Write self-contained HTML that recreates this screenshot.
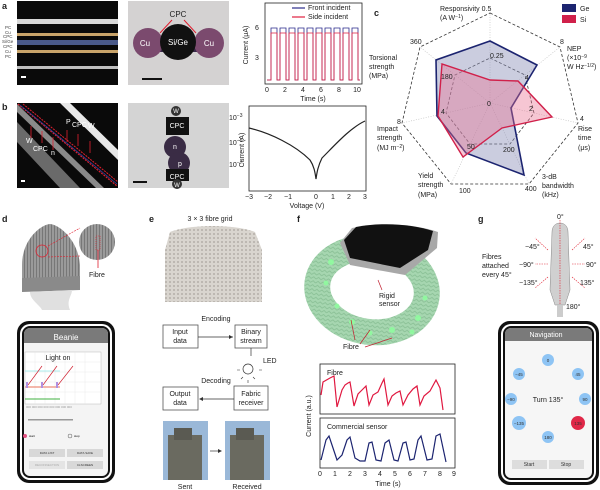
<!DOCTYPE html>
<html><head><meta charset="utf-8"><style>
html,body{margin:0;padding:0;background:#fff;}
svg{display:block;font-family:"Liberation Sans",sans-serif;}
</style></head><body>
<svg width="600" height="490" viewBox="0 0 600 490" xmlns="http://www.w3.org/2000/svg">
<defs>
<pattern id="knit" width="4" height="4" patternUnits="userSpaceOnUse"><rect width="4" height="4" fill="#d9d5cf"/><circle cx="2" cy="2" r="0.9" fill="#a9a49e"/></pattern>
<pattern id="knit2" width="3" height="4" patternUnits="userSpaceOnUse"><rect width="3" height="4" fill="#9a9a9a"/><rect width="1" height="4" fill="#777"/></pattern>
<pattern id="greenk" width="5" height="4" patternUnits="userSpaceOnUse"><rect width="5" height="4" fill="#a6d6b0"/><path d="M0 3 L2.5 1 L5 3" stroke="#86bd92" fill="none" stroke-width="0.8"/></pattern>
</defs>
<g font-size="8" fill="#222">
<text x="2" y="9" font-weight="bold" font-size="9">a</text>
<text x="2" y="110" font-weight="bold" font-size="9">b</text>
<text x="374" y="16" font-weight="bold" font-size="9">c</text>
<text x="2" y="222" font-weight="bold" font-size="9">d</text>
<text x="149" y="222" font-weight="bold" font-size="9">e</text>
<text x="297" y="222" font-weight="bold" font-size="9">f</text>
<text x="478" y="222" font-weight="bold" font-size="9">g</text>
</g>

<!-- a image1 -->
<rect x="17" y="1" width="101" height="84" fill="#0a0a0a"/>
<rect x="17" y="19" width="101" height="5" fill="#d8d8d8"/>
<rect x="17" y="33" width="101" height="3" fill="#c9a46a"/>
<rect x="17" y="40" width="101" height="5" fill="#4a5a8a"/>
<rect x="17" y="50" width="101" height="3" fill="#c9a46a"/>
<rect x="17" y="66" width="101" height="3" fill="#bfbfbf"/>
<rect x="21" y="76" width="5" height="2" fill="#fff"/>
<g font-size="4.5" fill="#444"><text x="5" y="29">PC</text><text x="5" y="34">Cu</text><text x="3" y="38">CPC</text><text x="2" y="43">Si/Ge</text><text x="3" y="48">CPC</text><text x="5" y="53">Cu</text><text x="5" y="58">PC</text></g>
<!-- a image2 -->
<rect x="128" y="1" width="101" height="84" fill="#d4d2d2"/>
<rect x="140" y="38" width="78" height="14" fill="#3a2a4a"/>
<circle cx="148" cy="43" r="15" fill="#7b4a6e"/>
<circle cx="209" cy="43" r="15" fill="#7b4a6e"/>
<circle cx="178" cy="42" r="18" fill="#111"/>
<g fill="#fff" font-size="8" text-anchor="middle"><text x="145" y="46">Cu</text><text x="178" y="45">Si/Ge</text><text x="209" y="46">Cu</text></g>
<text x="178" y="17" font-size="8" text-anchor="middle" fill="#222">CPC</text>
<path d="M172 20 L160 33 M184 20 L196 33" stroke="#e02030" stroke-width="1"/>
<rect x="142" y="78" width="20" height="2" fill="#111"/>
<!-- a chart -->
<rect x="265" y="3" width="97" height="81" fill="none" stroke="#222" stroke-width="0.8"/>
<path d="M267 80 L271 80 L271 28 L277 28 L277 80 L280 80 L280 28 L286 28 L286 80 L289 80 L289 28 L295 28 L295 80 L298 80 L298 28 L304 28 L304 80 L307 80 L307 28 L313 28 L313 80 L316 80 L316 28 L322 28 L322 80 L325 80 L325 28 L331 28 L331 80 L334 80 L334 28 L340 28 L340 80 L343 80 L343 28 L349 28 L349 80 L352 80 L352 28 L358 28 L358 80 L360 80" fill="none" stroke="#2a2a8a" stroke-width="0.8"/>
<path d="M267 80 L271 80 L271 33 L277 33 L277 80 L280 80 L280 33 L286 33 L286 80 L289 80 L289 33 L295 33 L295 80 L298 80 L298 33 L304 33 L304 80 L307 80 L307 33 L313 33 L313 80 L316 80 L316 33 L322 33 L322 80 L325 80 L325 33 L331 33 L331 80 L334 80 L334 33 L340 33 L340 80 L343 80 L343 33 L349 33 L349 80 L352 80 L352 33 L358 33 L358 80 L360 80" fill="none" stroke="#e02040" stroke-width="0.8"/>
<path d="M292 8 H305" stroke="#2a2a8a" stroke-width="1.2"/><path d="M292 17 H305" stroke="#e02040" stroke-width="1.2"/>
<g font-size="7" fill="#222"><text x="308" y="10">Front incident</text><text x="308" y="19">Side incident</text>
<text x="255" y="30">6</text><text x="255" y="60">3</text>
<g text-anchor="middle"><text x="267" y="92">0</text><text x="285" y="92">2</text><text x="303" y="92">4</text><text x="321" y="92">6</text><text x="339" y="92">8</text><text x="357" y="92">10</text><text x="313" y="101">Time (s)</text></g>
<text transform="translate(248,45) rotate(-90)" text-anchor="middle">Current (μA)</text>
<text transform="translate(244,150) rotate(-90)" text-anchor="middle">Current (A)</text>
</g>

<!-- b image1 -->
<rect x="17" y="103" width="101" height="85" fill="#0a0a0a"/>
<path d="M17 122 L80 188 L60 188 L17 142Z" fill="#6a6a6a"/>
<path d="M17 104 L104 188 L96 188 L17 112Z" fill="#8a8a8a"/>
<path d="M60 103 L118 160 L118 150 L70 103Z" fill="#e8e8e8"/>
<path d="M18 104 L117 186" stroke="#e02030" stroke-width="1.2" stroke-dasharray="2,1"/>
<path d="M23 104 L118 182" stroke="#e02030" stroke-width="1" stroke-dasharray="2,1"/>
<path d="M20 105 L117 184" stroke="#3040a0" stroke-width="0.8"/>
<g fill="#fff" font-size="7"><text x="26" y="143">W</text><text x="33" y="151">CPC</text><text x="51" y="155">n</text><text x="66" y="124">P</text><text x="72" y="127">CPC</text><text x="88" y="128">W</text></g>
<path d="M31 126 V138 M42 131 V143 M53 137 V150 M67 142 V130 M78 146 V134 M90 153 V141" stroke="#e02030" stroke-width="0.8"/>
<rect x="21" y="180" width="4" height="2" fill="#fff"/>
<!-- b image2 -->
<rect x="128" y="103" width="101" height="85" fill="#d4d4d4"/>
<rect x="166" y="117" width="23" height="18" fill="#111"/>
<circle cx="175" cy="147" r="11" fill="#3a2c45"/>
<circle cx="179" cy="163" r="11" fill="#3a2c45"/>
<rect x="166" y="169" width="23" height="12" fill="#111"/>
<circle cx="176" cy="111" r="5" fill="#333"/><circle cx="177" cy="184" r="5" fill="#333"/>
<g fill="#fff" font-size="7" text-anchor="middle"><text x="177" y="128">CPC</text><text x="175" y="149">n</text><text x="180" y="166">p</text><text x="177" y="179">CPC</text><text x="176" y="113" font-size="6">W</text><text x="177" y="187" font-size="6">W</text></g>
<rect x="133" y="181" width="14" height="2" fill="#111"/>
<!-- b chart -->
<rect x="249" y="106" width="117" height="85" fill="none" stroke="#222" stroke-width="0.8"/>
<path d="M249 128 C270 133 295 145 310 160 C314 166 315 172 316 179 C317 172 318 166 322 158 C335 145 350 128 365 121" fill="none" stroke="#222" stroke-width="1.2"/>
<g font-size="7" fill="#222"><text x="229" y="120">10<tspan dy="-3" font-size="5">−3</tspan></text><text x="229" y="145">10<tspan dy="-3" font-size="5">−5</tspan></text><text x="229" y="167">10<tspan dy="-3" font-size="5">−7</tspan></text>
<g text-anchor="middle"><text x="249" y="199">−3</text><text x="268" y="199">−2</text><text x="288" y="199">−1</text><text x="316" y="199">0</text><text x="333" y="199">1</text><text x="349" y="199">2</text><text x="365" y="199">3</text><text x="307" y="208">Voltage (V)</text></g></g>

<!-- c radar -->
<g fill="none" stroke="#333" stroke-dasharray="3,2" stroke-width="0.8">
<polygon points="490,13 560,47 578,123 529,184 451,184 402,123 420,47"/>
<polygon points="490,58 525,75 534,113 510,144 470,144 446,113 455,75"/>
</g>
<g stroke="#bbb" stroke-dasharray="1,1.5" stroke-width="0.6"><path d="M490 103 L490 13 M490 103 L560 47 M490 103 L578 123 M490 103 L529 184 M490 103 L451 184 M490 103 L402 123 M490 103 L420 47"/></g>
<polygon points="490,41 537,65 511,108 524,175 466,153 437,116 436,60" fill="#8c90b8" fill-opacity="0.45" stroke="#1c2470" stroke-width="1.6"/>
<polygon points="490,80 518,81 552,117 502,128 463,157 438,116 442,64" fill="#e87090" fill-opacity="0.4" stroke="#d0204a" stroke-width="1.4"/>
<g font-size="7" fill="#222">
<text x="440" y="11">Responsivity  0.5</text><text x="440" y="20">(A W<tspan dy="-2" font-size="5">−1</tspan><tspan dy="2">)</tspan></text>
<text x="490" y="58">0.25</text><text x="487" y="106">0</text>
<text x="560" y="44">8</text><text x="567" y="51">NEP</text><text x="567" y="60">(×10<tspan dy="-2" font-size="5">−9</tspan><tspan dy="2"></tspan></text><text x="567" y="69">W Hz<tspan dy="-2" font-size="5">−1/2</tspan><tspan dy="2">)</tspan></text>
<text x="525" y="80">4</text><text x="529" y="111">2</text>
<text x="580" y="121">4</text><text x="578" y="131">Rise</text><text x="578" y="140">time</text><text x="578" y="150">(μs)</text>
<text x="503" y="152">200</text><text x="525" y="191">400</text><text x="542" y="179">3-dB</text><text x="542" y="188">bandwidth</text><text x="542" y="197">(kHz)</text>
<text x="459" y="193">100</text><text x="467" y="149">50</text><text x="418" y="178">Yield</text><text x="418" y="187">strength</text><text x="418" y="197">(MPa)</text>
<text x="397" y="124">8</text><text x="441" y="114">4</text><text x="377" y="131">Impact</text><text x="377" y="140">strength</text><text x="377" y="150">(MJ m<tspan dy="-2" font-size="5">−2</tspan><tspan dy="2">)</tspan></text>
<text x="410" y="44">360</text><text x="441" y="79">180</text><text x="369" y="60">Torsional</text><text x="369" y="69">strength</text><text x="369" y="78">(MPa)</text>
<rect x="562" y="4" width="14" height="8" fill="#1c2470"/><text x="580" y="11">Ge</text>
<rect x="562" y="15" width="14" height="8" fill="#d0204a"/><text x="580" y="22">Si</text>
</g>

<!-- d hat -->
<path d="M22 265 C22 240 40 225 50 224 C60 225 78 240 80 265 L80 278 L22 280Z" fill="url(#knit2)"/>
<path d="M22 278 L80 276 L80 290 L22 292Z" fill="#8a8a8a"/>
<path d="M30 292 C30 300 40 305 42 310 L70 310 C66 300 72 296 72 290Z" fill="#e0e0e0"/>
<circle cx="42" cy="251" r="6" fill="none" stroke="#e02030" stroke-width="0.8"/>
<circle cx="97" cy="242" r="18" fill="url(#knit2)"/>
<path d="M48 246 L80 228 M48 257 L80 256" stroke="#e02030" stroke-width="0.6" stroke-dasharray="2,1"/>
<path d="M98 250 V268" stroke="#e02030" stroke-width="0.8"/><rect x="96" y="236" width="4" height="14" fill="none" stroke="#e02030" stroke-width="0.6" stroke-dasharray="1,1"/>
<text x="89" y="277" font-size="7" fill="#222">Fibre</text>
<!-- d phone -->
<rect x="17" y="321" width="98" height="162" rx="12" fill="#111"/>
<rect x="20" y="324" width="92" height="156" rx="10" fill="#fff"/>
<rect x="22" y="326" width="88" height="152" rx="8" fill="#111"/>
<rect x="24" y="328" width="84" height="148" rx="6" fill="#f4f4f4"/>
<path d="M24 334 a6 6 0 0 1 6 -6 H102 a6 6 0 0 1 6 6 V343 H24Z" fill="#7a7a7a"/>
<text x="66" y="340" font-size="8" fill="#fff" text-anchor="middle">Beanie</text>
<rect x="25" y="352" width="76" height="52" fill="#fff" stroke="#aaa" stroke-width="0.4"/>
<g stroke="#e4e4e4" stroke-width="0.4"><path d="M35 352 V404 M45 352 V404 M55 352 V404 M65 352 V404 M75 352 V404 M85 352 V404 M25 362 H101 M25 372 H101 M25 382 H101 M25 392 H101"/></g>
<text x="58" y="360" font-size="7" fill="#222" text-anchor="middle">Light on</text>
<path d="M25 371 H60" stroke="#5ce0e0" stroke-width="0.6"/><path d="M25 387 H60" stroke="#f0a090" stroke-width="1.4"/>
<path d="M25 399 H60" stroke="#40b040" stroke-width="1"/>
<path d="M28 385 L42 366 M43 385 L57 366 M58 385 L73 366" stroke="#d02030" stroke-width="0.7"/>
<g fill="#b090e0"><rect x="26" y="382" width="2" height="6"/><rect x="41" y="382" width="2" height="6"/><rect x="56" y="382" width="2" height="6"/></g>
<g fill="#999" font-size="3"><text x="26" y="408">000 000 000 000 000 000 000 000</text></g>
<g fill="#999"><rect x="28" y="419" width="45" height="1.5"/></g>
<circle cx="25" cy="436" r="2" fill="#e05080"/><text x="29" y="437" font-size="3">start</text>
<circle cx="70" cy="436" r="2" fill="none" stroke="#555" stroke-width="0.5"/><text x="74" y="437" font-size="3">stop</text>
<g fill="#d8d8d8"><rect x="29" y="449" width="36" height="8"/><rect x="67" y="449" width="36" height="8"/><rect x="29" y="461" width="36" height="8" fill="#e4e4e4"/><rect x="67" y="461" width="36" height="8"/></g>
<g font-size="3" fill="#333" text-anchor="middle"><text x="47" y="454">DATA LIST</text><text x="85" y="454">DATA SAVE</text><text x="47" y="466" fill="#aaa">RECONNECTION</text><text x="85" y="466">CLSCREEN</text></g>

<!-- e -->
<text x="210" y="221" font-size="7" fill="#222" text-anchor="middle">3 × 3 fibre grid</text>
<path d="M170 232 C190 224 235 224 255 232 L262 250 L262 302 L165 302 L165 250Z" fill="url(#knit)"/>
<g font-size="7" fill="#222" text-anchor="middle">
<text x="216" y="321">Encoding</text><text x="216" y="383">Decoding</text>
<rect x="163" y="325" width="35" height="23" fill="#fff" stroke="#555" stroke-width="0.8"/><text x="180" y="334">Input</text><text x="180" y="343">data</text>
<rect x="235" y="325" width="32" height="23" fill="#fff" stroke="#555" stroke-width="0.8"/><text x="251" y="334">Binary</text><text x="251" y="343">stream</text>
<rect x="163" y="387" width="35" height="23" fill="#fff" stroke="#555" stroke-width="0.8"/><text x="180" y="396">Output</text><text x="180" y="405">data</text>
<rect x="234" y="386" width="34" height="24" fill="#fff" stroke="#555" stroke-width="0.8"/><text x="251" y="396">Fabric</text><text x="251" y="405">receiver</text>
<text x="263" y="363" text-anchor="start">LED</text>
<text x="185" y="489">Sent</text><text x="247" y="489">Received</text>
</g>
<path d="M198 337 H233" stroke="#333" stroke-width="0.7"/><path d="M233 337 l-4 -2 v4z" fill="#333"/>
<path d="M234 399 H200" stroke="#333" stroke-width="0.7"/><path d="M199 399 l4 -2 v4z" fill="#333"/>
<path d="M251 348 V356" stroke="#333" stroke-width="0.7"/>
<circle cx="248" cy="369" r="5" fill="#fff" stroke="#333" stroke-width="0.7"/>
<path d="M240 370 h-3 M259 370 h3 M243 377 l-2 2 M253 377 l2 2 M248 380 v3" stroke="#333" stroke-width="0.6"/>
<rect x="163" y="421" width="45" height="59" fill="#9ab8d8"/><rect x="168" y="435" width="34" height="45" fill="#6a6a60"/><rect x="174" y="428" width="18" height="12" fill="#5a5a52"/>
<rect x="225" y="421" width="45" height="59" fill="#9ab8d8"/><rect x="230" y="435" width="34" height="45" fill="#6a6a60"/><rect x="236" y="428" width="18" height="12" fill="#5a5a52"/>
<path d="M210 451 H220" stroke="#333" stroke-width="0.7"/><path d="M222 451 l-4 -2 v4z" fill="#333"/>

<!-- f watch -->
<ellipse cx="372" cy="290" rx="55" ry="42" fill="none" stroke="url(#greenk)" stroke-width="26" transform="rotate(8 372 290)"/>
<path d="M340 243 L352 228 C380 222 415 224 438 232 L437 248 L405 275 L350 265Z" fill="#a8a8a8"/>
<path d="M344 240 L356 227 C382 222 412 224 433 231 L428 250 L400 268 L350 258Z" fill="#111"/>
<g fill="#8fff9f" opacity="0.85"><circle cx="331" cy="262" r="3"/><circle cx="326" cy="283" r="2.5"/><circle cx="337" cy="306" r="2.5"/><circle cx="352" cy="322" r="3"/><circle cx="370" cy="333" r="2.5"/><circle cx="392" cy="330" r="3"/><circle cx="418" cy="318" r="3"/><circle cx="425" cy="298" r="2.5"/><circle cx="412" cy="332" r="2.5"/></g>
<g font-size="7" fill="#222"><text x="379" y="298">Rigid</text><text x="379" y="306">sensor</text><text x="343" y="349">Fibre</text></g>
<path d="M378 280 L382 290 M355 340 L351 320 M360 344 L370 330 M365 347 L392 338" stroke="#c02030" stroke-width="0.7"/>
<!-- f charts -->
<rect x="320" y="364" width="135" height="50" fill="none" stroke="#222" stroke-width="0.8"/>
<rect x="320" y="418" width="135" height="50" fill="none" stroke="#222" stroke-width="0.8"/>
<text x="327" y="375" font-size="7" fill="#222">Fibre</text><text x="327" y="429" font-size="7" fill="#222">Commercial sensor</text>
<path d="M321 395 L323 382 L330 378 L334 376 L337 407 L342 390 L345 385 L348 383 L350 382 L354 406 L358 394 L362 390 L366 386 L369 405 L373 395 L378 392 L382 383 L384 379 L388 405 L392 396 L396 393 L400 391 L403 405 L408 395 L413 389 L417 386 L420 405 L424 396 L430 391 L436 380 L440 388 L443 410" fill="none" stroke="#e01840" stroke-width="1.2"/>
<path d="M321 460 L326 440 L329 436 L333 448 L337 460 L342 455 L347 440 L350 437 L355 458 L360 461 L365 461 L369 443 L372 442 L376 460 L381 461 L385 443 L389 440 L394 460 L398 461 L403 443 L406 442 L410 460 L414 459 L418 440 L421 436 L427 460 L432 459 L436 436 L440 434 L446 462" fill="none" stroke="#1c2470" stroke-width="1.2"/>
<g font-size="7" fill="#222" text-anchor="middle"><text x="320" y="476">0</text><text x="335" y="476">1</text><text x="350" y="476">2</text><text x="365" y="476">3</text><text x="380" y="476">4</text><text x="395" y="476">5</text><text x="410" y="476">6</text><text x="425" y="476">7</text><text x="440" y="476">8</text><text x="454" y="476">9</text><text x="388" y="486">Time (s)</text>
<text transform="translate(311,416) rotate(-90)">Current (a.u.)</text></g>

<!-- g robot -->
<path d="M552 232 C552 220 568 220 568 232 L570 290 L565 305 L555 305 L550 290Z" fill="#d0d0d0" stroke="#888" stroke-width="0.5"/>
<path d="M560 220 V310" stroke="#e02030" stroke-width="0.6" stroke-dasharray="1.5,1"/>
<rect x="557" y="305" width="6" height="12" fill="#ccc"/>
<g stroke="#e02030" stroke-width="0.6" stroke-dasharray="1.5,1"><path d="M548 250 L535 238 M572 250 L585 238 M548 264 H535 M572 264 H585 M548 277 L535 288 M572 277 L585 288"/></g>
<g font-size="7" fill="#222"><text x="557" y="219">0°</text><text x="525" y="249">−45°</text><text x="583" y="249">45°</text><text x="519" y="267">−90°</text><text x="586" y="267">90°</text><text x="519" y="285">−135°</text><text x="580" y="285">135°</text><text x="566" y="309">180°</text>
<text x="482" y="259">Fibres</text><text x="482" y="268">attached</text><text x="482" y="277">every 45°</text></g>
<!-- g phone -->
<rect x="498" y="321" width="101" height="164" rx="12" fill="#111"/>
<rect x="501" y="324" width="95" height="158" rx="10" fill="#fff"/>
<rect x="503" y="326" width="91" height="154" rx="8" fill="#111"/>
<rect x="505" y="328" width="87" height="150" rx="6" fill="#f6f6f6"/>
<path d="M505 334 a6 6 0 0 1 6 -6 H586 a6 6 0 0 1 6 6 V341 H505Z" fill="#7a7a7a"/>
<text x="546" y="337" font-size="7" fill="#fff" text-anchor="middle">Navigation</text>
<g fill="#8ec4f4"><circle cx="548" cy="360" r="6"/><circle cx="519" cy="374" r="6"/><circle cx="578" cy="374" r="6"/><circle cx="511" cy="399" r="6"/><circle cx="585" cy="399" r="6"/><circle cx="519" cy="423" r="7"/><circle cx="548" cy="437" r="6"/></g>
<circle cx="578" cy="423" r="7" fill="#e02848"/>
<g font-size="4.5" fill="#333" text-anchor="middle"><text x="548" y="362">0</text><text x="519" y="376">−45</text><text x="578" y="376">45</text><text x="511" y="401">−90</text><text x="585" y="401">90</text><text x="519" y="425">−135</text><text x="578" y="425">135</text><text x="548" y="439">180</text></g>
<text x="548" y="402" font-size="7" fill="#222" text-anchor="middle">Turn 135°</text>
<rect x="512" y="460" width="35" height="9" fill="#ddd"/><rect x="549" y="460" width="35" height="9" fill="#ddd"/>
<g font-size="5" fill="#333" text-anchor="middle"><text x="529" y="466">Start</text><text x="566" y="466">Stop</text></g>
</svg>
</body></html>
